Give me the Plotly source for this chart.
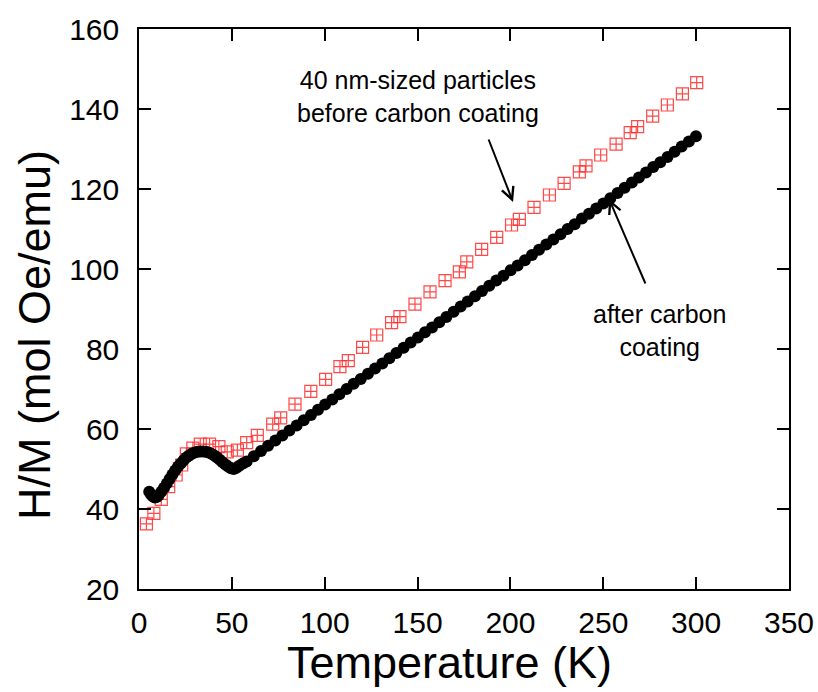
import plotly.graph_objects as go

# Red open squares: 40 nm particles before carbon coating
T_before = [4, 8, 12, 16, 20, 23, 25.5, 29, 33, 38, 43, 47.5, 53, 58, 63.7, 72, 76.3,
            84, 92.5, 100.5, 108.2, 112.7, 120.4, 128, 136, 140.5, 148.6, 156.7, 164.8,
            172.5, 176.5, 184.5, 192.6, 200.6, 204.8, 212.7, 221, 228.9, 237.1, 240.7,
            248.6, 256.9, 264.5, 268.5, 276.6, 284.5, 292.6, 300.3]
H_before = [36.3, 38.9, 42.4, 45.6, 48.5, 51.0, 53.8, 55.2, 56.2, 56.2, 55.6, 54.3, 54.7,
            56.6, 58.4, 61.2, 62.8, 66.2, 69.4, 72.4, 75.6, 77.1, 80.4, 83.5, 86.6, 88.1,
            91.2, 94.3, 97.1, 99.3, 101.8, 104.9, 107.9, 111.0, 112.4, 115.4, 118.5,
            121.4, 124.3, 125.8, 128.5, 131.2, 134.1, 135.6, 138.2, 141.0, 143.8, 146.6]

# Black filled circles: after carbon coating
T_after = [5.5, 6.5, 7.5, 8.5, 9.5, 10.5, 12, 13.5, 15, 16.5, 18, 19.5, 21, 22.5, 24,
           25.5, 27, 28.5, 30, 31.5, 33, 34.5, 36, 37.5, 39, 40.5, 42, 43.5, 45, 46.5,
           48, 49.5, 51, 52.5, 54, 56,
           58.0, 61.8, 65.7, 69.5, 73.4, 77.2, 81.0, 84.9, 88.7, 92.6, 96.4, 100.2,
           104.1, 107.9, 111.8, 115.6, 119.4, 123.3, 127.1, 131.0, 134.8, 138.6, 142.5,
           146.3, 150.2, 154.0, 157.8, 161.7, 165.5, 169.4, 173.2, 177.0, 180.9, 184.7,
           188.6, 192.4, 196.2, 200.1, 203.9, 207.8, 211.6, 215.4, 219.3, 223.1, 227.0,
           230.8, 234.6, 238.5, 242.3, 246.2, 250.0, 253.8, 257.7, 261.5, 265.4, 269.2,
           273.0, 276.9, 280.7, 284.6, 288.4, 292.2, 296.1, 299.9]
H_after = [44.3, 43.6, 43.1, 42.9, 43.0, 43.4, 44.3, 45.3, 46.4, 47.5, 48.6, 49.6, 50.6,
           51.4, 52.2, 52.9, 53.4, 53.8, 54.1, 54.3, 54.4, 54.4, 54.3, 54.1, 53.8, 53.4,
           52.9, 52.3, 51.7, 51.1, 50.6, 50.2, 50.0, 50.3, 50.8, 51.4,
           51.9, 53.2, 54.5, 55.8, 57.1, 58.4, 59.6, 60.9, 62.2, 63.5, 64.8, 66.1, 67.4,
           68.7, 70.0, 71.3, 72.5, 73.8, 75.1, 76.4, 77.7, 79.0, 80.3, 81.6, 82.9, 84.2,
           85.4, 86.7, 88.0, 89.3, 90.6, 91.9, 93.2, 94.5, 95.8, 97.1, 98.3, 99.7, 100.9,
           102.2, 103.5, 104.8, 106.1, 107.4, 108.7, 110.0, 111.2, 112.6, 113.8, 115.1,
           116.4, 117.7, 119.0, 120.3, 121.6, 122.9, 124.1, 125.5, 126.7, 128.0, 129.3,
           130.6, 131.9, 133.2]

X_TICKS = [0, 50, 100, 150, 200, 250, 300, 350]
Y_TICKS = [20, 40, 60, 80, 100, 120, 140, 160]

FONT = "Liberation Sans, Arial, sans-serif"

fig = go.Figure()
fig.add_trace(go.Scatter(
    x=T_before, y=H_before, mode="markers",
    marker=dict(symbol="square-cross-open", size=12, color="rgba(255,40,40,0.85)",
                line=dict(width=1.2, color="rgba(255,40,40,0.85)")),
    showlegend=False))
fig.add_trace(go.Scatter(
    x=T_after, y=H_after, mode="markers",
    marker=dict(symbol="circle", size=12, color="black", line=dict(width=0)),
    showlegend=False))

axis_common = dict(
    showgrid=False, zeroline=False, showline=True, linecolor="black", linewidth=1.5,
    mirror="ticks", ticks="inside", ticklen=12, tickwidth=1.5, tickcolor="black",
    automargin=False,
    tickfont=dict(family=FONT, size=30, color="black"),
)
fig.update_xaxes(range=[0, 350], tickvals=X_TICKS, ticklabelstandoff=6, **axis_common)
fig.update_yaxes(range=[20, 160], tickvals=Y_TICKS, ticklabelstandoff=12, **axis_common)

annotations = [
    dict(text="Temperature (K)", xref="paper", yref="paper", x=0.478, y=-0.1304,
         xanchor="center", yanchor="middle", showarrow=False,
         font=dict(family=FONT, size=45, color="black")),
    dict(text="H/M (mol Oe/emu)", xref="paper", yref="paper", x=-0.16, y=0.4536,
         xanchor="center", yanchor="middle", textangle=-90, showarrow=False,
         font=dict(family=FONT, size=45, color="black")),
    dict(text="40 nm-sized particles<br>before carbon coating", xref="paper", yref="paper",
         x=0.4292, y=0.8786, xanchor="center", yanchor="middle", showarrow=False,
         font=dict(family=FONT, size=25, color="black")),
    dict(text="after carbon<br>coating", xref="paper", yref="paper",
         x=0.8, y=0.4625, xanchor="center", yanchor="middle", showarrow=False,
         font=dict(family=FONT, size=25, color="black")),
    dict(text="", x=201.4, y=116.75, xref="x", yref="y", showarrow=True,
         ax=-25, ay=-64, arrowhead=5, arrowsize=1.2, arrowwidth=2, arrowcolor="black"),
    dict(text="", x=253.1, y=117.5, xref="x", yref="y", showarrow=True,
         ax=37, ay=86, arrowhead=5, arrowsize=1.2, arrowwidth=2, arrowcolor="black"),
]

fig.update_layout(
    width=818, height=692,
    margin=dict(l=139, r=29, t=29, b=103, autoexpand=False),
    paper_bgcolor="white", plot_bgcolor="white",
    annotations=annotations,
)

fig.write_html("out.html", config={"displayModeBar": False},
               post_script="document.body.style.margin='0';document.body.style.overflow='hidden';")
